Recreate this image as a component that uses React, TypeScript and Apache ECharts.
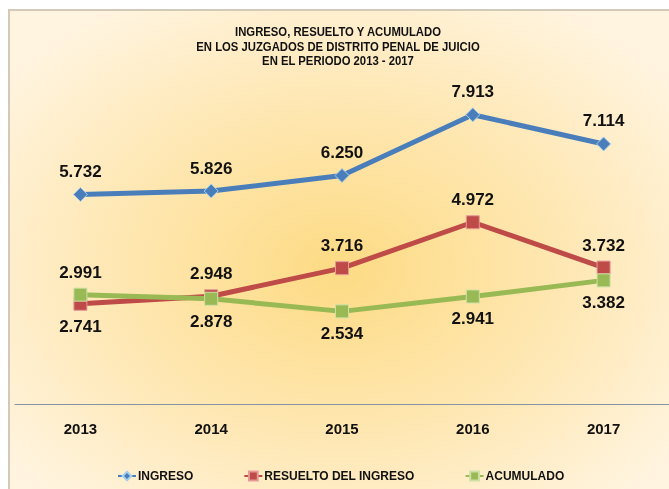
import React, { useEffect, useRef } from "react";
import * as echarts from "echarts";

const years = ["2013", "2014", "2015", "2016", "2017"];
const ingreso = [5732, 5826, 6250, 7913, 7114];
const resuelto = [2741, 2948, 3716, 4972, 3732];
const acumulado = [2991, 2878, 2534, 2941, 3382];
const resueltoLabelPos = ["bottom", "top", "top", "top", "top"];
const acumuladoLabelPos = ["top", "bottom", "bottom", "bottom", "bottom"];
const titleLines = [
  "INGRESO, RESUELTO Y ACUMULADO",
  "EN LOS JUZGADOS DE DISTRITO PENAL DE JUICIO",
  "EN EL PERIODO 2013 - 2017",
];

const SANS = "'Liberation Sans', Arial, sans-serif";

const fmt = (v: number) => (v / 1000).toFixed(3);

export default function App() {
  const ref = useRef<HTMLDivElement>(null);
  useEffect(() => {
    if (!ref.current) return;
    const chart = echarts.init(ref.current, undefined, { renderer: "svg" });
    const label = (pos: string) => ({
      show: true,
      position: pos,
      distance: 7,
      formatter: (p: any) => fmt(p.value),
      fontFamily: SANS,
      fontWeight: "bold",
      fontSize: 17,
      color: "#111",
    });
    const mk = (vals: number[], pos: string[]) =>
      vals.map((v, i) => ({ value: v, label: label(pos[i]) }));
    const titleEls = titleLines.map((t, i) => ({
      type: "text",
      x: 338,
      y: 32 + i * 14.5,
      scaleX: 0.87,
      z: 10,
      silent: true,
      style: {
        text: t,
        textAlign: "center",
        textVerticalAlign: "middle",
        fontFamily: SANS,
        fontWeight: "bold",
        fontSize: 13,
        fill: "#111",
      },
    }));
    chart.setOption({
      animation: false,
      graphic: [
        {
          type: "rect",
          z: -10,
          silent: true,
          shape: { x: 9, y: 10, width: 700, height: 520 },
          style: {
            fill: new echarts.graphic.RadialGradient(0.47, 0.5, 0.6, [
              { offset: 0, color: "#FDDB84" },
              { offset: 0.5, color: "#FEE6AF" },
              { offset: 1, color: "#FFF4E0" },
            ]),
            stroke: "#D3C9B8",
            lineWidth: 2,
          },
        },
        ...titleEls,
      ],
      grid: { left: 15, width: 659, top: 75, bottom: 85, containLabel: false },
      xAxis: {
        type: "category",
        data: years,
        boundaryGap: true,
        axisLine: { lineStyle: { color: "#8792A4", width: 1 } },
        axisTick: { show: false },
        axisLabel: {
          margin: 17,
          fontFamily: SANS,
          fontWeight: "bold",
          fontSize: 15,
          color: "#111",
        },
      },
      yAxis: { type: "value", min: 0, max: 9000, show: false, splitLine: { show: false } },
      legend: {
        top: 465,
        left: 112,
        itemGap: 50,
        itemWidth: 18,
        itemHeight: 11,
        textStyle: { fontFamily: SANS, fontWeight: "bold", fontSize: 12, color: "#111", padding: [0, 0, 0, -3] },
        data: ["INGRESO", "RESUELTO DEL INGRESO", "ACUMULADO"],
      },
      series: [
        {
          name: "INGRESO",
          type: "line",
          data: mk(ingreso, ["top", "top", "top", "top", "top"]),
          symbol: "diamond",
          symbolSize: 14,
          lineStyle: { color: "#4A7EBB", width: 5 },
          itemStyle: { color: "#4A7EBB", borderColor: "#A9D0EC", borderWidth: 1 },
          z: 3,
        },
        {
          name: "RESUELTO DEL INGRESO",
          type: "line",
          data: mk(resuelto, resueltoLabelPos),
          symbol: "rect",
          symbolSize: 13,
          lineStyle: { color: "#BE4B48", width: 5 },
          itemStyle: { color: "#BE4B48", borderColor: "#E59A97", borderWidth: 1 },
          z: 2,
        },
        {
          name: "ACUMULADO",
          type: "line",
          data: mk(acumulado, acumuladoLabelPos),
          symbol: "rect",
          symbolSize: 13,
          lineStyle: { color: "#98B954", width: 5 },
          itemStyle: { color: "#98B954", borderColor: "#CFE0A6", borderWidth: 1 },
          z: 4,
        },
      ],
    });
    return () => chart.dispose();
  }, []);
  return (
    <div
      ref={ref}
      style={{ position: "fixed", left: 0, top: 0, width: 669, height: 489 }}
    />
  );
}
